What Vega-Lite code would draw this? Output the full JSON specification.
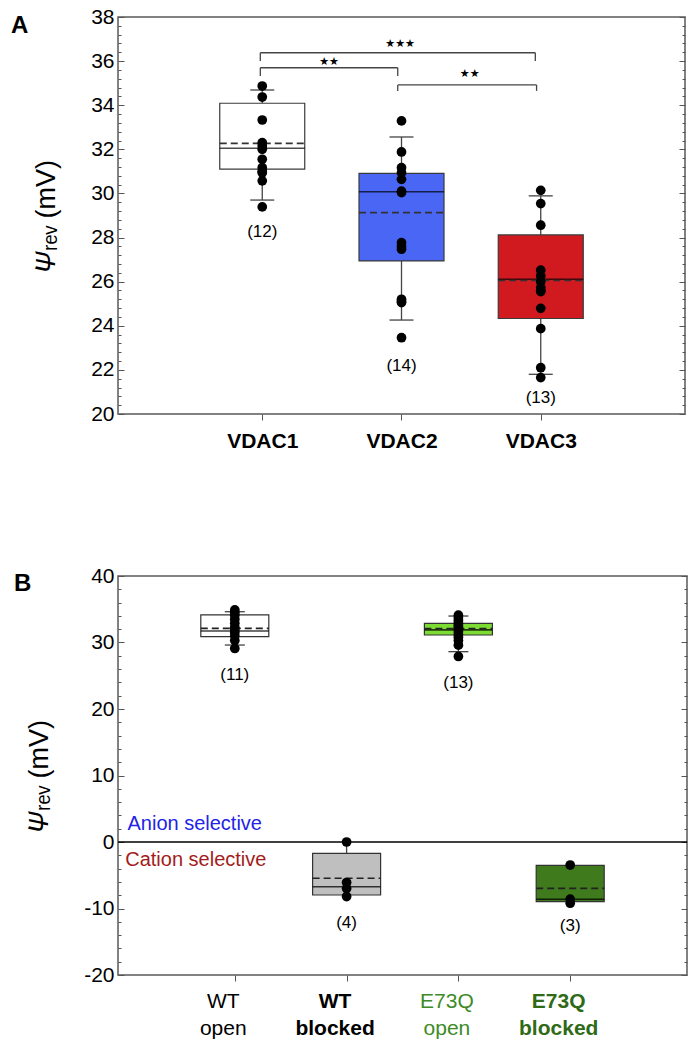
{
  "$schema": "https://vega.github.io/schema/vega-lite/v6.json",
  "padding": {"left": 10, "top": 5, "right": 5, "bottom": 5},
  "background": "white",
  "datasets": {
    "ptsA": [
      {"g": 1, "v": 34.87}, {"g": 1, "v": 34.37}, {"g": 1, "v": 33.33}, {"g": 1, "v": 32.3}, {"g": 1, "v": 32.15}, {"g": 1, "v": 32.0},
      {"g": 1, "v": 31.55}, {"g": 1, "v": 31.17}, {"g": 1, "v": 31.0}, {"g": 1, "v": 30.94}, {"g": 1, "v": 30.57}, {"g": 1, "v": 29.39},
      {"g": 2, "v": 33.29}, {"g": 2, "v": 31.88}, {"g": 2, "v": 31.17}, {"g": 2, "v": 30.94}, {"g": 2, "v": 30.64}, {"g": 2, "v": 30.1},
      {"g": 2, "v": 30.04}, {"g": 2, "v": 27.77}, {"g": 2, "v": 27.6}, {"g": 2, "v": 27.47}, {"g": 2, "v": 25.2}, {"g": 2, "v": 25.1},
      {"g": 2, "v": 25.05}, {"g": 2, "v": 23.46},
      {"g": 3, "v": 30.14}, {"g": 3, "v": 29.54}, {"g": 3, "v": 28.56}, {"g": 3, "v": 26.52}, {"g": 3, "v": 26.26}, {"g": 3, "v": 26.0},
      {"g": 3, "v": 25.73}, {"g": 3, "v": 25.6}, {"g": 3, "v": 25.55}, {"g": 3, "v": 24.79}, {"g": 3, "v": 23.87}, {"g": 3, "v": 22.1},
      {"g": 3, "v": 21.65}
    ],
    "boxA": [
      {"g": 1, "name": "VDAC1", "q1": 31.1, "med": 32.05, "q3": 34.09, "mean": 32.27, "lo": 29.7, "hi": 34.69, "n": "(12)", "ny": 28.25},
      {"g": 2, "name": "VDAC2", "q1": 26.94, "med": 30.08, "q3": 30.91, "mean": 29.13, "lo": 24.26, "hi": 32.56, "n": "(14)", "ny": 22.18},
      {"g": 3, "name": "VDAC3", "q1": 24.33, "med": 26.11, "q3": 28.12, "mean": 26.05, "lo": 21.8, "hi": 29.89, "n": "(13)", "ny": 20.74}
    ],
    "capsA": [
      {"g": 1, "v": 29.7}, {"g": 1, "v": 34.69}, {"g": 2, "v": 24.26}, {"g": 2, "v": 32.56}, {"g": 3, "v": 21.8}, {"g": 3, "v": 29.89}
    ],
    "brA": [
      {"a": 0.986, "b": 1.973, "y": 35.7, "ye": 35.33, "s": "★★", "sx": 1.48, "sy": 35.96},
      {"a": 0.986, "b": 2.961, "y": 36.38, "ye": 36.0, "s": "★★★", "sx": 1.99, "sy": 36.79},
      {"a": 1.973, "b": 2.97, "y": 34.92, "ye": 34.65, "s": "★★", "sx": 2.49, "sy": 35.4}
    ],
    "ptsB": [
      {"g": 1, "v": 34.9}, {"g": 1, "v": 34.5}, {"g": 1, "v": 34.1}, {"g": 1, "v": 33.5}, {"g": 1, "v": 32.9}, {"g": 1, "v": 32.3},
      {"g": 1, "v": 31.9}, {"g": 1, "v": 31.5}, {"g": 1, "v": 31.0}, {"g": 1, "v": 30.3}, {"g": 1, "v": 29.1},
      {"g": 2, "v": 0.0}, {"g": 2, "v": -6.1}, {"g": 2, "v": -7.0}, {"g": 2, "v": -8.2},
      {"g": 3, "v": 34.1}, {"g": 3, "v": 33.7}, {"g": 3, "v": 33.3}, {"g": 3, "v": 32.9}, {"g": 3, "v": 32.6}, {"g": 3, "v": 32.3},
      {"g": 3, "v": 32.0}, {"g": 3, "v": 31.6}, {"g": 3, "v": 31.2}, {"g": 3, "v": 30.8}, {"g": 3, "v": 30.3}, {"g": 3, "v": 29.6},
      {"g": 3, "v": 27.9},
      {"g": 4, "v": -3.46}, {"g": 4, "v": -8.6}, {"g": 4, "v": -9.2}
    ],
    "boxB": [
      {"g": 1, "name": "WT open", "q1": 30.87, "med": 31.73, "q3": 34.14, "mean": 32.13, "lo": 29.62, "hi": 34.63, "n": "(11)", "ny": 25.1},
      {"g": 2, "name": "WT blocked", "q1": -7.97, "med": -6.72, "q3": -1.7, "mean": -5.46, "lo": -7.97, "hi": 0.0, "n": "(4)", "ny": -12.2},
      {"g": 3, "name": "E73Q open", "q1": 31.13, "med": 31.9, "q3": 32.88, "mean": 32.1, "lo": 28.62, "hi": 33.98, "n": "(13)", "ny": 23.86},
      {"g": 4, "name": "E73Q blocked", "q1": -8.97, "med": -8.6, "q3": -3.5, "mean": -6.97, "lo": -8.97, "hi": -3.5, "n": "(3)", "ny": -12.58}
    ],
    "capsB": [
      {"g": 1, "v": 34.63}, {"g": 1, "v": 29.62}, {"g": 3, "v": 33.98}, {"g": 3, "v": 28.62}
    ],
    "notesB": [
      {"t": "Anion selective", "x": 0.04, "y": 2.7, "k": "anion"},
      {"t": "Cation selective", "x": 0.02, "y": -2.7, "k": "cation"}
    ],
    "zeroB": [{"z": 0}]
  },
  "config": {
    "view": {"stroke": "#5a5a5a", "strokeWidth": 1.5},
    "font": "Liberation Sans",
    "axis": {"grid": false, "domain": false, "labelFont": "Liberation Sans", "titleFont": "Liberation Sans", "tickColor": "#555", "labelColor": "black", "titleColor": "black", "labelOverlap": false},
    "concat": {"spacing": 112}
  },
  "resolve": {"scale": {"color": "independent", "fill": "independent"}},
  "vconcat": [
    {
      "width": 567,
      "height": 397,
      "title": {"text": "A", "anchor": "start", "frame": "group", "orient": "top", "offset": 0, "dx": -107, "dy": 32, "fontSize": 24, "fontWeight": "bold", "font": "Liberation Sans", "color": "black"},
      "layer": [
        {
          "layer": [
            {
              "data": {"name": "boxA"},
              "mark": {"type": "rule", "color": "#444", "strokeWidth": 1.3},
              "encoding": {
                "x": {"field": "g", "type": "quantitative", "scale": {"domain": [0, 4], "nice": false},
                  "axis": {"title": null, "values": [1, 2, 3], "labelExpr": "['','VDAC1','VDAC2','VDAC3'][datum.value]", "labelFontSize": 21, "labelFontWeight": "bold", "tickSize": 6, "labelPadding": 10, "labelOverlap": false}},
                "y": {"field": "lo", "type": "quantitative", "scale": {"domain": [20, 38], "nice": false, "zero": false},
                  "axis": {"title": "𝛹ᵣₑᵥ (mV)", "orient": "left", "labelOverlap": false, "tickCount": 500,
                    "values": [20,20.4,20.8,21.2,21.6,22,22.4,22.8,23.2,23.6,24,24.4,24.8,25.2,25.6,26,26.4,26.8,27.2,27.6,28,28.4,28.8,29.2,29.6,30,30.4,30.8,31.2,31.6,32,32.4,32.8,33.2,33.6,34,34.4,34.8,35.2,35.6,36,36.4,36.8,37.2,37.6,38],
                    "labelExpr": "abs(datum.value/2 - round(datum.value/2)) < 0.01 ? '' + round(datum.value) : ''",
                    "tickSize": {"condition": {"test": "abs(datum.value/2 - round(datum.value/2)) < 0.01", "value": -6}, "value": -3},
                    "labelPadding": 10, "labelFontSize": 21, "titleFontSize": 27, "titleFontWeight": "normal", "titlePadding": 30}},
                "y2": {"field": "q1"}
              }
            },
            {
              "data": {"name": "boxA"},
              "mark": {"type": "rule", "color": "#444", "strokeWidth": 1.3},
              "encoding": {"x": {"field": "g", "type": "quantitative"}, "y": {"field": "q3", "type": "quantitative"}, "y2": {"field": "hi"}}
            },
            {
              "data": {"name": "capsA"},
              "mark": {"type": "rule", "color": "#444", "strokeWidth": 1.3, "xOffset": -12, "x2Offset": 12},
              "encoding": {"x": {"field": "g", "type": "quantitative"}, "x2": {"field": "g"}, "y": {"field": "v", "type": "quantitative"}}
            },
            {
              "data": {"name": "boxA"},
              "mark": {"type": "bar", "width": 85, "stroke": "#3a3a3a", "strokeWidth": 1.2, "opacity": 1},
              "encoding": {
                "x": {"field": "g", "type": "quantitative"},
                "y": {"field": "q1", "type": "quantitative"},
                "y2": {"field": "q3"},
                "fill": {"field": "name", "type": "nominal", "scale": {"domain": ["VDAC1", "VDAC2", "VDAC3"], "range": ["#ffffff", "#4a66f5", "#d01a20"]}, "legend": null}
              }
            },
            {
              "data": {"name": "boxA"},
              "mark": {"type": "rule", "color": "black", "opacity": 0.7, "strokeWidth": 1.6, "xOffset": -42.5, "x2Offset": 42.5},
              "encoding": {"x": {"field": "g", "type": "quantitative"}, "x2": {"field": "g"}, "y": {"field": "med", "type": "quantitative"}}
            },
            {
              "data": {"name": "boxA"},
              "mark": {"type": "rule", "color": "#333", "strokeWidth": 1.6, "strokeDash": [7, 4], "xOffset": -42.5, "x2Offset": 42.5},
              "encoding": {"x": {"field": "g", "type": "quantitative"}, "x2": {"field": "g"}, "y": {"field": "mean", "type": "quantitative"}}
            },
            {
              "data": {"name": "ptsA"},
              "mark": {"type": "circle", "size": 95, "color": "black", "opacity": 1},
              "encoding": {"x": {"field": "g", "type": "quantitative"}, "y": {"field": "v", "type": "quantitative"}}
            },
            {
              "data": {"name": "boxA"},
              "mark": {"type": "text", "fontSize": 17, "baseline": "middle", "color": "black"},
              "encoding": {"x": {"field": "g", "type": "quantitative"}, "y": {"field": "ny", "type": "quantitative"}, "text": {"field": "n"}}
            },
            {
              "data": {"name": "brA"},
              "mark": {"type": "rule", "color": "#444", "strokeWidth": 1.3},
              "encoding": {"x": {"field": "a", "type": "quantitative"}, "x2": {"field": "b"}, "y": {"field": "y", "type": "quantitative"}}
            },
            {
              "data": {"name": "brA"},
              "mark": {"type": "rule", "color": "#444", "strokeWidth": 1.3},
              "encoding": {"x": {"field": "a", "type": "quantitative"}, "y": {"field": "y", "type": "quantitative"}, "y2": {"field": "ye"}}
            },
            {
              "data": {"name": "brA"},
              "mark": {"type": "rule", "color": "#444", "strokeWidth": 1.3},
              "encoding": {"x": {"field": "b", "type": "quantitative"}, "y": {"field": "y", "type": "quantitative"}, "y2": {"field": "ye"}}
            },
            {
              "data": {"name": "brA"},
              "mark": {"type": "text", "fontSize": 11, "font": "DejaVu Sans", "baseline": "middle", "color": "black"},
              "encoding": {"x": {"field": "sx", "type": "quantitative"}, "y": {"field": "sy", "type": "quantitative"}, "text": {"field": "s"}}
            }
          ]
        },
        {
          "data": {"name": "boxA"},
          "mark": {"type": "point", "opacity": 0},
          "encoding": {
            "x": {"field": "g", "type": "quantitative"},
            "y": {"field": "med", "type": "quantitative",
              "axis": {"orient": "right", "title": null, "labels": false, "labelOverlap": false, "tickCount": 500,
                "values": [20,20.4,20.8,21.2,21.6,22,22.4,22.8,23.2,23.6,24,24.4,24.8,25.2,25.6,26,26.4,26.8,27.2,27.6,28,28.4,28.8,29.2,29.6,30,30.4,30.8,31.2,31.6,32,32.4,32.8,33.2,33.6,34,34.4,34.8,35.2,35.6,36,36.4,36.8,37.2,37.6,38],
                "tickSize": {"condition": {"test": "abs(datum.value/2 - round(datum.value/2)) < 0.01", "value": -6}, "value": -3}}}
          }
        }
      ],
      "resolve": {"axis": {"y": "independent"}}
    },
    {
      "width": 569,
      "height": 399,
      "title": {"text": "B", "anchor": "start", "frame": "group", "orient": "top", "offset": 0, "dx": -104, "dy": 31, "fontSize": 24, "fontWeight": "bold", "font": "Liberation Sans", "color": "black"},
      "layer": [
        {
          "layer": [
            {
              "data": {"name": "zeroB"},
              "mark": {"type": "rule", "color": "black", "strokeWidth": 1.6},
              "encoding": {
                "y": {"field": "z", "type": "quantitative", "scale": {"domain": [-20, 40], "nice": false, "zero": false},
                  "axis": {"title": "𝛹ᵣₑᵥ (mV)", "orient": "left", "labelOverlap": false, "tickCount": 500,
                    "values": [-20,-18,-16,-14,-12,-10,-8,-6,-4,-2,0,2,4,6,8,10,12,14,16,18,20,22,24,26,28,30,32,34,36,38,40],
                    "labelExpr": "datum.value % 10 == 0 ? '' + datum.value : ''",
                    "tickSize": {"condition": {"test": "datum.value % 10 == 0", "value": -6}, "value": -3},
                    "labelPadding": 10, "labelFontSize": 21, "titleFontSize": 27, "titleFontWeight": "normal", "titlePadding": 30}}
              }
            },
            {
              "data": {"name": "notesB"},
              "mark": {"type": "text", "fontSize": 20, "align": "left", "baseline": "middle"},
              "encoding": {
                "x": {"field": "x", "type": "quantitative", "scale": {"domain": [0, 5], "nice": false},
                  "axis": {"title": null, "values": [1, 2, 3, 4], "labelOverlap": false,
                    "labelExpr": "datum.value == 1 ? ['WT','open'] : datum.value == 2 ? ['WT','blocked'] : datum.value == 3 ? ['E73Q','open'] : ['E73Q','blocked']",
                    "labelFontSize": 21, "labelLineHeight": 27, "labelOffset": -12,
                    "labelColor": {"condition": [{"test": "datum.value == 3", "value": "#3d8b26"}, {"test": "datum.value == 4", "value": "#2f6a17"}], "value": "black"},
                    "labelFontWeight": {"condition": {"test": "datum.value % 2 == 0", "value": "bold"}, "value": "normal"},
                    "tickSize": 6, "labelPadding": 9}},
                "y": {"field": "y", "type": "quantitative"},
                "text": {"field": "t"},
                "color": {"field": "k", "type": "nominal", "scale": {"domain": ["anion", "cation"], "range": ["#2323e6", "#a31c1c"]}, "legend": null}
              }
            },
            {
              "data": {"name": "boxB"},
              "mark": {"type": "rule", "color": "#444", "strokeWidth": 1.3},
              "encoding": {"x": {"field": "g", "type": "quantitative"}, "y": {"field": "lo", "type": "quantitative"}, "y2": {"field": "q1"}}
            },
            {
              "data": {"name": "boxB"},
              "mark": {"type": "rule", "color": "#444", "strokeWidth": 1.3},
              "encoding": {"x": {"field": "g", "type": "quantitative"}, "y": {"field": "q3", "type": "quantitative"}, "y2": {"field": "hi"}}
            },
            {
              "data": {"name": "capsB"},
              "mark": {"type": "rule", "color": "#444", "strokeWidth": 1.3, "xOffset": -10, "x2Offset": 10},
              "encoding": {"x": {"field": "g", "type": "quantitative"}, "x2": {"field": "g"}, "y": {"field": "v", "type": "quantitative"}}
            },
            {
              "data": {"name": "boxB"},
              "mark": {"type": "bar", "width": 68, "stroke": "#333", "strokeWidth": 1.2, "opacity": 1},
              "encoding": {
                "x": {"field": "g", "type": "quantitative"},
                "y": {"field": "q1", "type": "quantitative"},
                "y2": {"field": "q3"},
                "fill": {"field": "name", "type": "nominal", "scale": {"domain": ["WT open", "WT blocked", "E73Q open", "E73Q blocked"], "range": ["#ffffff", "#bfbfbf", "#7ddc33", "#3f7b1d"]}, "legend": null}
              }
            },
            {
              "data": {"name": "boxB"},
              "mark": {"type": "rule", "color": "black", "opacity": 0.75, "strokeWidth": 1.6, "xOffset": -34, "x2Offset": 34},
              "encoding": {"x": {"field": "g", "type": "quantitative"}, "x2": {"field": "g"}, "y": {"field": "med", "type": "quantitative"}}
            },
            {
              "data": {"name": "boxB"},
              "mark": {"type": "rule", "color": "#222", "strokeWidth": 1.6, "strokeDash": [7, 4], "xOffset": -34, "x2Offset": 34},
              "encoding": {"x": {"field": "g", "type": "quantitative"}, "x2": {"field": "g"}, "y": {"field": "mean", "type": "quantitative"}}
            },
            {
              "data": {"name": "ptsB"},
              "mark": {"type": "circle", "size": 95, "color": "black", "opacity": 1},
              "encoding": {"x": {"field": "g", "type": "quantitative"}, "y": {"field": "v", "type": "quantitative"}}
            },
            {
              "data": {"name": "boxB"},
              "mark": {"type": "text", "fontSize": 17, "baseline": "middle", "color": "black"},
              "encoding": {"x": {"field": "g", "type": "quantitative"}, "y": {"field": "ny", "type": "quantitative"}, "text": {"field": "n"}}
            }
          ]
        },
        {
          "data": {"name": "boxB"},
          "mark": {"type": "point", "opacity": 0},
          "encoding": {
            "x": {"field": "g", "type": "quantitative"},
            "y": {"field": "med", "type": "quantitative",
              "axis": {"orient": "right", "title": null, "labels": false, "labelOverlap": false, "tickCount": 500,
                "values": [-20,-18,-16,-14,-12,-10,-8,-6,-4,-2,0,2,4,6,8,10,12,14,16,18,20,22,24,26,28,30,32,34,36,38,40],
                "tickSize": {"condition": {"test": "datum.value % 10 == 0", "value": -6}, "value": -3}}}
          }
        }
      ],
      "resolve": {"axis": {"y": "independent"}}
    }
  ]
}
